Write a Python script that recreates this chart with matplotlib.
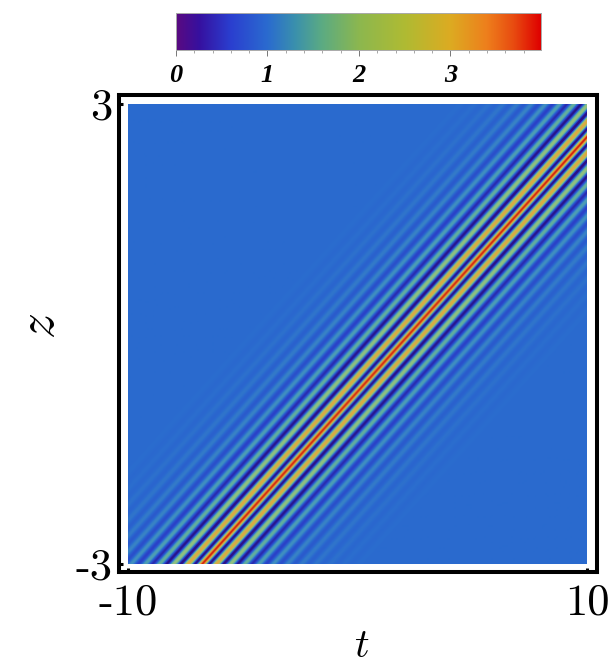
import numpy as np
import matplotlib
matplotlib.use("Agg")
import matplotlib.pyplot as plt
from matplotlib.colors import LinearSegmentedColormap

# values
cbar_max = 3.99
cmap_values = [0, 0.25, 0.6, 1.0, 1.3, 1.6, 2.0, 2.5, 3.0, 3.4, 3.7, 3.99]
cbar_colors = ["#5a0a80", "#36109f", "#2a3fd0", "#2a6bcf", "#3a90ad", "#5cab82", "#8cb74f",
               "#afbb33", "#dcab22", "#ee7f1c", "#e84a10", "#df0000"]
field_colors = ["#3a0a80", "#27148a", "#2a3fc8", "#2a6bcf", "#4496bd", "#66b09a", "#90c080",
                "#b8bb55", "#deaa42", "#e68a30", "#dc5520", "#cf1a08"]
ridge_offset = [0, 0.31, 0.62, 0.93, 1.24, 1.55, 1.86, 2.17, 2.48, 2.79, 3.10, 3.41, 3.72,
                4.03, 4.34, 4.65, 4.96, 5.27, 5.58, 5.89, 6.20, 6.51, 6.82, 7.13]
ridge_value = [3.95, 0.20, 3.05, 0.15, 2.05, 0.25, 1.60, 0.45, 1.40, 0.62, 1.26, 0.75, 1.17,
               0.85, 1.11, 0.91, 1.07, 0.95, 1.04, 0.97, 1.02, 0.98, 1.01, 1.0]
ridge_slope = 3.01
ridge_shift = 2.27
t_range = [-10, 10]
z_range = [-3, 3]
t_labels = ["-10", "10"]
z_labels = ["-3", "3"]
cbar_ticks = [0, 1, 2, 3]


def W(px): return px / 610
def H(px): return px / 668


def make_cmap(colors):
    return LinearSegmentedColormap.from_list(
        "bar", [(v / cbar_max, c) for v, c in zip(cmap_values, colors)], N=512)


t = np.linspace(t_range[0], t_range[1], 460)
z = np.linspace(z_range[0], z_range[1], 461)
T, Z = np.meshgrid(t, z)
d = np.abs(T - (ridge_slope * Z + ridge_shift))
xs = np.array(ridge_offset)
ys = np.array(ridge_value)
i = np.clip(np.searchsorted(xs, d, side="right") - 1, 0, len(xs) - 2)
f = np.clip((d - xs[i]) / (xs[i + 1] - xs[i]), 0, 1)
field = ys[i] + (ys[i + 1] - ys[i]) * (1 - np.cos(np.pi * f)) / 2

fig = plt.figure(figsize=(6.10, 6.68), dpi=100, facecolor="white")

L, R, TOP, BOT = 119, 597, 95, 572
ax = fig.add_axes([W(L), 1 - H(BOT), W(R - L), H(BOT - TOP)])
px_t = 20 / (587 - 128)
px_z = 6 / (564 - 104)
ax.imshow(field, extent=[*t_range, *z_range], origin="lower", aspect="auto",
          cmap=make_cmap(field_colors), vmin=0, vmax=cbar_max, interpolation="bilinear")
ax.set_xlim(-10 - (128 - L) * px_t, 10 + (R - 587) * px_t)
ax.set_ylim(-3 - (BOT - 564) * px_z, 3 + (104 - TOP) * px_z)
for s in ax.spines.values():
    s.set_linewidth(2.9)
ax.set_xticks(t_range)
ax.set_yticks(z_range)
ax.set_xticklabels(t_labels, family="cmr10", fontsize=32)
ax.set_yticklabels(z_labels, family="cmr10", fontsize=32)
ax.tick_params(axis="both", direction="in", length=3, width=2.2, pad=5)
ax.tick_params(axis="x", pad=8)
fig.text(W(40), 1 - H(326), "$z$", math_fontfamily="cm", fontsize=37, rotation=90,
         ha="center", va="center")
fig.text(W(362), 1 - H(646), "$t$", math_fontfamily="cm", fontsize=29, ha="center", va="center")

cax = fig.add_axes([W(176), 1 - H(50), W(541 - 176), H(50 - 13)])
grad = np.linspace(0, cbar_max, 512)[None, :]
cax.imshow(grad, extent=[0, cbar_max, 0, 1], aspect="auto", cmap=make_cmap(cbar_colors),
           vmin=0, vmax=cbar_max)
cax.set_yticks([])
for s in cax.spines.values():
    s.set_edgecolor("#aaaaaa")
    s.set_linewidth(0.7)
cax.set_xticks(cbar_ticks)
cax.set_xticks(np.arange(0, cbar_max, 0.2), minor=True)
cax.set_xticklabels([str(v) for v in cbar_ticks], family="Liberation Serif",
                    style="italic", weight="bold", fontsize=19)
cax.tick_params(axis="x", which="major", length=4, width=0.7, color="#777777", pad=6)
cax.tick_params(axis="x", which="minor", length=2, width=0.6, color="#999999")

fig.savefig("out.png", dpi=100, facecolor="white")
